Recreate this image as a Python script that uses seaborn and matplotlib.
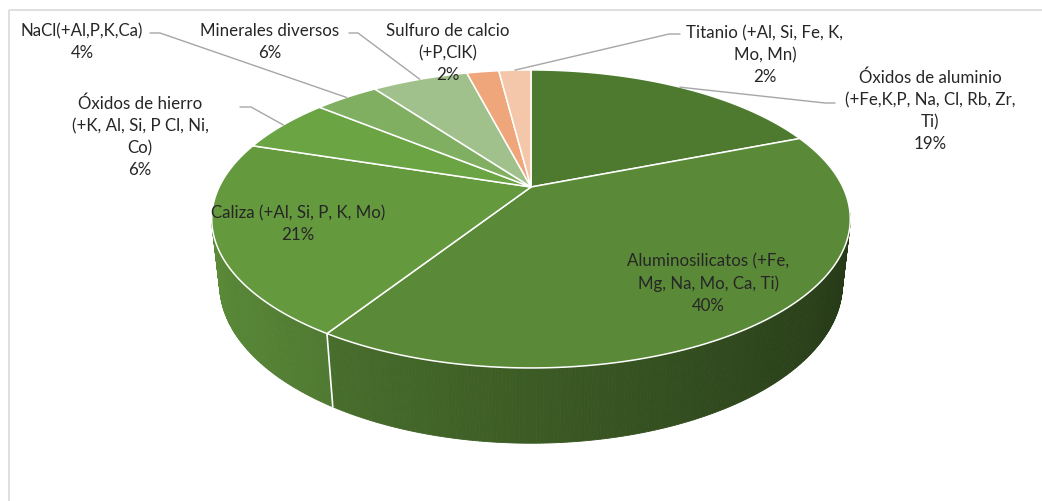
import numpy as np
import matplotlib
matplotlib.use("Agg")
import matplotlib.pyplot as plt
from matplotlib.patches import Polygon, Rectangle
import seaborn as sns

# ---- data ---------------------------------------------------------------
categories = [
    "Óxidos de aluminio\n(+Fe,K,P, Na, Cl, Rb, Zr,\nTi)",
    "Aluminosilicatos (+Fe,\nMg, Na, Mo, Ca, Ti)",
    "Caliza (+Al, Si, P, K, Mo)",
    "Óxidos de hierro\n(+K, Al, Si, P Cl, Ni,\nCo)",
    "NaCl(+Al,P,K,Ca)",
    "Minerales diversos",
    "Sulfuro de calcio\n(+P,ClK)",
    "Titanio (+Al, Si, Fe, K,\nMo, Mn)",
]
percent = [19, 40, 21, 6, 4, 6, 2, 2]
slice_colors = ["#4e7a30", "#5a8a37", "#64993e", "#6aa443",
                "#80af62", "#a1c18c", "#f0a67b", "#f5c7aa"]

# ---- layout -------------------------------------------------------------
W, H = 1042, 501
CX, CY = 531, 187          # apex of the pie on the canvas (px)
ELEV = np.deg2rad(26.3)    # camera elevation
DIST = 4.18                # camera distance (in pie radii)
FOCAL = 1341               # focal length (px)
X_SCALE = 0.972            # horizontal squeeze of the projected pie
THICK = 0.227              # pie thickness (in pie radii)

# label anchor (centre of text block) and leader knee, None = no leader
label_layout = [
    ((930, 111), (835, 103), (825, 103)),
    ((708, 284), None, None),
    ((298, 224), None, None),
    ((140, 137), (240, 107), (251, 107)),
    ((82, 42), (150, 33), (160, 33)),
    ((270, 42), (349, 33), (358, 33)),
    ((448, 53), None, None),
    ((765, 55), (680, 34), (669, 34)),
]

sns.set_theme(style="white")
plt.rcParams["font.family"] = ["Lato", "DejaVu Sans"]
palette = sns.color_palette(slice_colors)

s, c = np.sin(ELEV), np.cos(ELEV)


def project(theta, r=1.0, z=0.0):
    """theta measured clockwise from 12 o'clock, returns canvas px."""
    X = r * np.sin(theta)
    Y = r * np.cos(theta)
    sy = Y * s + z * c
    depth = DIST + Y * c - z * s
    return CX + X_SCALE * FOCAL * X / depth, CY - FOCAL * sy / depth


fig = plt.figure(figsize=(W / 100, H / 100), dpi=100)
ax = fig.add_axes([0, 0, 1, 1])
ax.set_xlim(0, W)
ax.set_ylim(H, 0)
ax.axis("off")

# chart frame
ax.add_patch(Rectangle((8.5, 9.5), 1200, 800, fill=False,
                       edgecolor="#d9d9d9", lw=1.2))

total = float(sum(percent))
bounds = np.concatenate([[0], np.cumsum(percent)]) / total * 2 * np.pi

# outer wall (only the part facing the camera)
vis_lo, vis_hi = np.deg2rad(100), np.deg2rad(260)
for i, col in enumerate(palette):
    a0, a1 = max(bounds[i], vis_lo), min(bounds[i + 1], vis_hi)
    if a1 <= a0:
        continue
    ts = np.linspace(a0, a1, max(3, int(np.degrees(a1 - a0) * 2)))
    for t0, t1 in zip(ts[:-1], ts[1:]):
        xm = np.sin(0.5 * (t0 + t1))
        f = np.clip(0.66 - 0.25 * xm, 0.3, 1.0)
        shade = tuple(np.array(col) * f)
        pts = [project(t0), project(t1), project(t1, z=-THICK), project(t0, z=-THICK)]
        ax.add_patch(Polygon(pts, closed=True, facecolor=shade,
                             edgecolor=shade, lw=0.6, zorder=2))

# white seams on the wall at slice boundaries
for b in bounds[1:-1]:
    if np.cos(b) < -0.27:
        p0, p1 = project(b), project(b, z=-THICK)
        ax.plot([p0[0], p1[0]], [p0[1], p1[1]], color="white", lw=1.2, zorder=3)

# top faces
for i, col in enumerate(palette):
    ts = np.linspace(bounds[i], bounds[i + 1], 120)
    arc = [project(t) for t in ts]
    ax.add_patch(Polygon([(CX, CY)] + arc, closed=True, facecolor=col,
                         edgecolor="white", lw=1.1, joinstyle="round", zorder=4))

# labels and leader lines
for i, (name, pct) in enumerate(zip(categories, percent)):
    (tx, ty), p_start, p_knee = label_layout[i]
    ax.text(tx, ty, f"{name}\n{pct}%", ha="center", va="center",
            fontsize=12.2, color="#262626", linespacing=1.45, zorder=6)
    if p_start is not None:
        mid = 0.5 * (bounds[i] + bounds[i + 1])
        ex, ey = project(mid)
        ax.plot([p_start[0], p_knee[0], ex], [p_start[1], p_knee[1], ey],
                color="#a6a6a6", lw=1.0, zorder=5)

fig.savefig("out.png", dpi=100)
